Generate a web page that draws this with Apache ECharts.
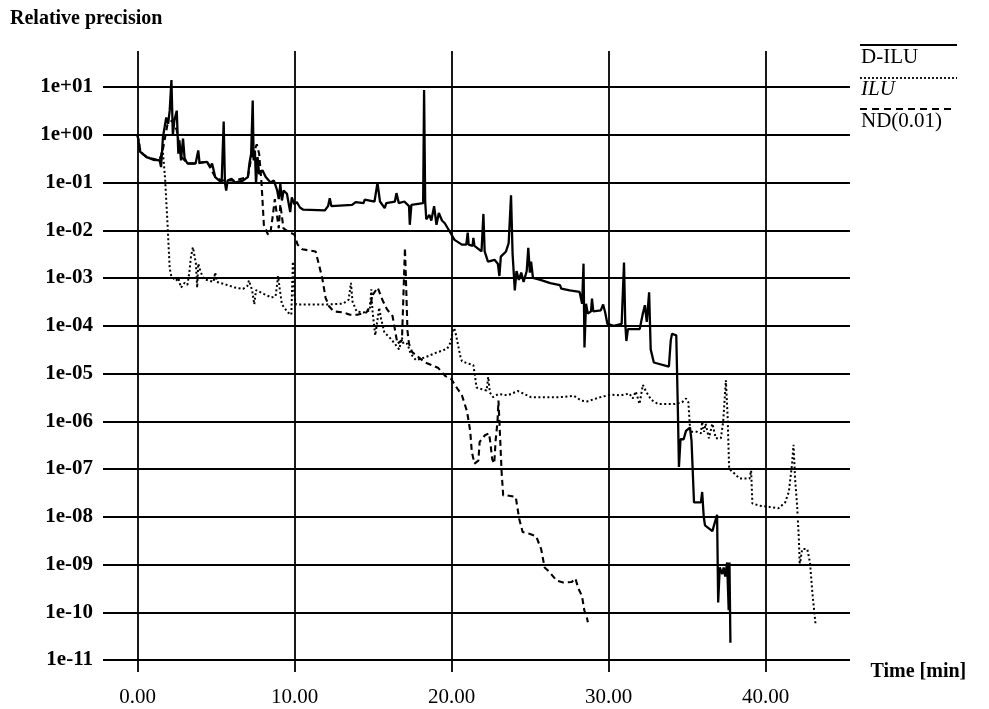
<!DOCTYPE html>
<html>
<head>
<meta charset="utf-8">
<title>Relative precision</title>
<script src="https://cdn.jsdelivr.net/npm/echarts@6/dist/echarts.min.js"></script>
<style>
  html, body { margin: 0; padding: 0; background: #fff; }
  #chart { width: 989px; height: 709px; }
</style>
</head>
<body>
<div id="chart"></div>
<script>
// time in minutes, relative precision
const diluTime = [0, 0.17, 0.58, 1.0, 1.41, 1.5, 1.62, 1.83, 1.95, 2.05, 2.16, 2.25, 2.35, 2.5, 2.6, 2.67, 2.77, 2.9, 3.0, 3.18,
  3.7, 3.87, 3.95, 4.43, 4.64, 4.75, 4.95, 5.36, 5.49, 5.57, 5.65, 5.74, 5.99, 6.2, 6.72, 7.03, 7.13, 7.24, 7.34, 7.4,
  7.48, 7.55, 7.65, 7.75, 7.96, 8.17, 8.48, 8.69, 8.9, 9.0, 9.1, 9.2, 9.31, 9.52, 9.73, 9.83, 10.0, 10.15, 10.35, 10.56,
  11.93, 12.14, 12.25, 12.35, 13.67, 13.9, 14.4, 14.48, 15.1, 15.29, 15.45, 15.75, 15.85, 16.4, 16.5, 16.65, 17.0, 17.3, 17.35, 17.45,
  18.2, 18.26, 18.33, 18.4, 18.6, 18.72, 18.9, 19.05, 19.2, 19.4, 19.58, 19.9, 20.2, 20.67, 20.95, 21.04, 21.1, 21.35, 21.4, 21.47,
  21.92, 22.04, 22.12, 22.33, 22.75, 22.96, 23.06, 23.15, 23.48, 23.65, 23.8, 23.9, 24.04, 24.15, 24.3, 24.45, 24.6, 24.8, 24.9, 25.0,
  25.08, 25.2, 25.67, 26.3, 26.92, 27.0, 27.54, 28.17, 28.33, 28.42, 28.48, 28.58, 28.69, 28.9, 28.96, 29.04, 29.52, 29.67, 29.8, 29.94,
  30.35, 30.85, 31.0, 31.08, 31.15, 31.25, 32.0, 32.2, 32.33, 32.45, 32.6, 32.7, 32.9, 33.86, 33.98, 34.06, 34.33, 34.43, 34.5, 34.6,
  34.8, 34.95, 35.2, 35.3, 35.46, 35.9, 35.98, 36.08, 36.16, 36.63, 36.93, 37.0, 37.1, 37.26, 37.35, 37.45, 37.57, 37.67, 37.72, 37.78];
const diluPrec = [1.0, 0.44, 0.34, 0.30, 0.29, 0.21, 0.89, 2.3, 1.7, 3.2, 14, 1.0, 2.0, 3.2, 0.4, 0.76, 0.29, 0.83, 0.32, 0.25,
  0.25, 0.47, 0.26, 0.27, 0.21, 0.25, 0.13, 0.10, 1.9, 0.10, 0.068, 0.11, 0.12, 0.10, 0.11, 0.13, 0.25, 0.40, 5.2, 0.29,
  0.47, 0.093, 0.34, 0.15, 0.18, 0.13, 0.10, 0.11, 0.068, 0.045, 0.093, 0.042, 0.068, 0.058, 0.024, 0.049, 0.035, 0.039, 0.030, 0.027,
  0.026, 0.032, 0.047, 0.032, 0.034, 0.039, 0.037, 0.044, 0.040, 0.098, 0.040, 0.029, 0.037, 0.040, 0.060, 0.037, 0.040, 0.032, 0.013, 0.034,
  0.037, 8.7, 0.040, 0.017, 0.021, 0.016, 0.032, 0.013, 0.023, 0.016, 0.014, 9.3e-3, 6.3e-3, 5.0e-3, 5.0e-3, 8.9e-3, 5.0e-3, 4.7e-3, 6.9e-3, 4.7e-3,
  3.6e-3, 0.022, 3.6e-3, 2.2e-3, 2.4e-3, 2.0e-3, 1.1e-3, 2.8e-3, 3.6e-3, 5.4e-3, 0.054, 3.2e-3, 5.5e-4, 1.4e-3, 9.1e-4, 1.3e-3, 8.3e-4, 1.4e-3, 4.3e-3, 1.3e-3,
  2.2e-3, 1.0e-3, 9.1e-4, 7.8e-4, 7.1e-4, 6.0e-4, 5.5e-4, 5.1e-4, 2.9e-4, 2.0e-3, 3.5e-5, 2.9e-4, 1.8e-4, 2.0e-4, 3.7e-4, 2.0e-4, 2.1e-4, 2.8e-4, 1.9e-4, 1.1e-4,
  1.0e-4, 1.1e-4, 2.1e-3, 1.1e-4, 4.8e-5, 8.5e-5, 8.5e-5, 1.8e-4, 2.7e-4, 1.2e-4, 5.0e-4, 3.2e-5, 1.7e-5, 1.4e-5, 5.0e-5, 6.8e-5, 6.3e-5, 1.8e-6, 1.1e-7, 4.2e-7,
  4.2e-7, 6.3e-7, 7.4e-7, 4.0e-7, 2.0e-8, 2.0e-8, 3.3e-8, 1.0e-8, 6.6e-9, 5.0e-9, 1.1e-8, 1.6e-10, 8.7e-10, 6.3e-10, 8.7e-10, 5.6e-10, 1.1e-9, 1.1e-10, 1.1e-9, 2.3e-11];

const iluTime = [0, 0.2, 0.6, 1.4, 1.6, 1.75, 1.9, 2.05, 2.15, 2.45, 2.6, 2.77, 3.0, 3.18, 3.3, 3.4, 3.53, 3.64, 3.72, 3.8,
  3.87, 4.0, 4.22, 4.84, 4.95, 5.05, 5.57, 6.2, 6.72, 7.0, 7.1, 7.3, 7.44, 7.55, 8.07, 8.54, 8.8, 8.96, 9.05, 9.2,
  9.58, 9.8, 9.9, 10.0, 10.1, 12.08, 13.1, 13.45, 13.6, 13.7, 13.96, 14.4, 14.8, 14.9, 14.97, 15.05, 15.15, 15.4, 15.52, 15.73,
  16.04, 16.35, 16.67, 16.85, 16.95, 17.2, 17.4, 17.74, 18.36, 19.0, 19.73, 19.95, 20.15, 20.3, 20.57, 20.67, 21.1, 21.4, 21.5, 21.6,
  21.93, 22.24, 22.35, 22.45, 22.66, 22.98, 23.6, 24.23, 25.07, 26.1, 26.96, 27.8, 28.3, 28.64, 29.5, 30.15, 30.8, 31.34, 31.55, 31.75,
  31.99, 32.2, 32.4, 32.74, 33.17, 34.25, 34.7, 34.95, 35.1, 35.22, 35.66, 35.9, 35.98, 36.1, 36.2, 36.41, 36.63, 36.85, 37.17, 37.32,
  37.49, 37.6, 37.7, 37.93, 38.36, 39.0, 39.1, 39.18, 39.65, 40.3, 40.84, 41.27, 41.5, 41.7, 41.8, 41.9, 42.03, 42.14, 42.2, 42.35,
  42.68, 42.85, 43.0, 43.2];
const iluPrec = [1.0, 0.44, 0.34, 0.29, 0.50, 0.13, 0.016, 1.6e-3, 1.1e-3, 8.7e-4, 1.0e-3, 6.3e-4, 7.9e-4, 7.2e-4, 1.3e-3, 2.7e-3, 4.4e-3, 4.8e-3, 2.0e-3, 6.3e-4,
  2.0e-3, 1.4e-3, 9.5e-4, 8.3e-4, 1.3e-3, 8.3e-4, 7.4e-4, 6.3e-4, 5.9e-4, 6.8e-4, 8.9e-4, 5.6e-4, 2.8e-4, 5.6e-4, 4.6e-4, 3.9e-4, 4.2e-4, 1.1e-3, 6.3e-4, 2.8e-4,
  1.9e-4, 1.7e-4, 2.2e-3, 4.0e-4, 2.8e-4, 2.8e-4, 2.9e-4, 3.5e-4, 7.9e-4, 3.2e-4, 2.0e-4, 1.9e-4, 2.1e-4, 5.8e-4, 2.1e-4, 1.2e-4, 6.3e-5, 2.4e-4, 1.4e-4, 7.2e-5,
  5.8e-5, 4.4e-5, 3.2e-5, 5.6e-5, 4.2e-5, 4.2e-5, 2.6e-5, 1.9e-5, 2.2e-5, 2.7e-5, 3.3e-5, 4.5e-5, 1.0e-4, 6.3e-5, 2.3e-5, 1.8e-5, 1.6e-5, 1.5e-5, 9.1e-6, 5.1e-6,
  4.7e-6, 4.4e-6, 8.5e-6, 4.0e-6, 3.2e-6, 3.7e-6, 3.5e-6, 4.3e-6, 3.2e-6, 3.2e-6, 3.2e-6, 3.4e-6, 2.7e-6, 2.6e-6, 3.2e-6, 3.6e-6, 3.5e-6, 3.8e-6, 3.0e-6, 4.2e-6,
  2.3e-6, 5.8e-6, 4.2e-6, 2.8e-6, 2.3e-6, 2.3e-6, 2.5e-6, 3.0e-6, 2.5e-6, 6.0e-7, 6.0e-7, 5.6e-7, 9.8e-7, 6.0e-7, 8.9e-7, 4.4e-7, 8.9e-7, 4.4e-7, 4.4e-7, 9.8e-7,
  7.2e-6, 1.3e-6, 1.0e-7, 8.7e-8, 6.3e-8, 6.3e-8, 9.3e-8, 1.9e-8, 1.7e-8, 1.6e-8, 1.5e-8, 2.0e-8, 3.3e-8, 1.2e-7, 3.2e-7, 6.3e-8, 1.7e-8, 3.5e-9, 9.5e-10, 2.1e-9,
  2.1e-9, 1.1e-9, 2.6e-10, 5.8e-11];

const ndTime = [0, 0.17, 0.58, 1.41, 1.62, 1.9, 2.2, 2.5, 2.77, 3.18, 3.7, 4.43, 4.95, 5.36, 6.2, 7.03, 7.24, 7.6, 7.75, 7.9,
  8.05, 8.3, 8.45, 8.6, 8.75, 8.85, 9.0, 9.1, 9.3, 9.58, 10.0, 10.2, 10.5, 11.35, 11.56, 11.77, 11.98, 12.19, 12.5, 13.1,
  13.54, 14.0, 14.58, 14.8, 15.0, 15.3, 15.6, 15.9, 16.25, 16.56, 16.85, 16.98, 17.04, 17.12, 17.2, 17.3, 17.5, 17.9, 18.33, 18.75,
  19.17, 19.6, 20.0, 20.25, 20.67, 21.0, 21.2, 21.3, 21.47, 21.72, 21.8, 22.14, 22.4, 22.5, 22.6, 22.73, 22.82, 22.94, 23.0, 23.1,
  23.2, 23.3, 23.56, 24.1, 24.32, 24.54, 24.97, 25.4, 25.72, 25.94, 26.26, 26.7, 27.13, 27.67, 27.9, 28.1, 28.32, 28.47, 28.6, 28.7];
const ndPrec = [1.0, 0.44, 0.34, 0.29, 0.50, 1.6, 2.0, 1.26, 0.35, 0.25, 0.25, 0.27, 0.13, 0.11, 0.11, 0.13, 0.32, 0.63, 0.40, 0.10,
  0.013, 8.3e-3, 8.1e-3, 0.018, 0.045, 0.025, 0.011, 0.035, 0.011, 9.5e-3, 8.1e-3, 5.0e-3, 4.0e-3, 3.6e-3, 1.9e-3, 1.0e-3, 3.9e-4, 2.6e-4, 2.0e-4, 1.9e-4,
  1.7e-4, 1.7e-4, 1.9e-4, 2.5e-4, 4.5e-4, 6.3e-4, 3.5e-4, 2.2e-4, 1.6e-4, 4.2e-5, 5.0e-5, 1.0e-3, 4.3e-3, 6.3e-4, 7.9e-5, 4.2e-5, 2.8e-5, 2.2e-5, 1.7e-5, 1.5e-5,
  1.3e-5, 8.9e-6, 7.6e-6, 5.6e-6, 3.5e-6, 1.6e-6, 6.2e-7, 2.3e-7, 1.3e-7, 1.5e-7, 3.7e-7, 5.1e-7, 5.6e-7, 3.2e-7, 1.6e-7, 1.3e-7, 4.0e-7, 1.0e-6, 2.7e-6, 5.0e-7,
  8.7e-8, 2.8e-8, 2.8e-8, 2.6e-8, 9.1e-9, 4.8e-9, 4.4e-9, 3.9e-9, 2.1e-9, 8.7e-10, 6.9e-10, 4.6e-10, 4.2e-10, 4.3e-10, 5.1e-10, 3.1e-10, 2.2e-10, 1.1e-10, 8.5e-11, 6.2e-11];

const timeTicks = [0, 10, 20, 30, 40];
const legendNames = ['D-ILU', 'ILU', 'ND(0.01)'];

const FONT = '"Liberation Serif", "DejaVu Serif", serif';
const INK = '#000';

function zip(xs, ys) {
  return xs.map((x, i) => [x, ys[i]]);
}

function expLabel(v) {
  const e = Math.round(Math.log10(v));
  const sign = e < 0 ? '-' : '+';
  return '1e' + sign + String(Math.abs(e)).padStart(2, '0');
}

const chart = echarts.init(document.getElementById('chart'), null, { renderer: 'canvas' });

const option = {
  animation: false,
  backgroundColor: '#fff',
  title: {
    text: 'Relative precision',
    left: 10,
    top: 9,
    padding: 0,
    textStyle: { fontFamily: FONT, fontSize: 20, fontWeight: 'bold', color: INK }
  },
  grid: [
    // data grid: horizontal decade lines span the whole plot width
    { left: 103, right: 139, top: 51, bottom: 49 },
    // vertical time lines, a bit longer than the data grid
    { left: 137.5, right: 223.5, top: 51, bottom: 37 }
  ],
  xAxis: [
    {
      gridIndex: 0,
      type: 'value',
      min: -2.2,
      max: 45.4,
      show: false
    },
    {
      gridIndex: 1,
      type: 'value',
      min: timeTicks[0],
      max: timeTicks[timeTicks.length - 1],
      interval: 10,
      axisLine: { show: false },
      axisTick: { show: false },
      splitLine: { show: true, lineStyle: { color: INK, width: 1.8 } },
      axisLabel: {
        margin: 15,
        fontFamily: FONT,
        fontSize: 21,
        color: INK,
        formatter: v => v.toFixed(2)
      },
      name: 'Time [min]',
      nameLocation: 'end',
      nameGap: 105,
      nameTextStyle: { fontFamily: FONT, fontSize: 20, fontWeight: 'bold', color: INK, align: 'left', verticalAlign: 'middle', padding: [0, 0, 6, 0] }
    }
  ],
  yAxis: [
    {
      gridIndex: 0,
      type: 'log',
      logBase: 10,
      min: 1e-11,
      max: 56.8,
      interval: 1,
      axisLine: { show: false },
      axisTick: { show: false },
      splitLine: { show: true, showMaxLine: false, lineStyle: { color: INK, width: 1.8 } },
      axisLabel: {
        margin: 10,
        fontFamily: FONT,
        fontSize: 21,
        fontWeight: 'bold',
        color: INK,
        showMaxLabel: false,
        formatter: expLabel
      }
    },
    {
      gridIndex: 1,
      type: 'value',
      min: 0,
      max: 1,
      show: false
    }
  ],
  series: [
    {
      name: legendNames[0],
      type: 'line',
      xAxisIndex: 0,
      yAxisIndex: 0,
      data: zip(diluTime, diluPrec),
      showSymbol: false,
      symbol: 'none',
      lineStyle: { color: INK, width: 2.3 }
    },
    {
      name: legendNames[1],
      type: 'line',
      xAxisIndex: 0,
      yAxisIndex: 0,
      data: zip(iluTime, iluPrec),
      showSymbol: false,
      symbol: 'none',
      lineStyle: { color: INK, width: 2, type: [2, 2.5] }
    },
    {
      name: legendNames[2],
      type: 'line',
      xAxisIndex: 0,
      yAxisIndex: 0,
      data: zip(ndTime, ndPrec),
      showSymbol: false,
      symbol: 'none',
      lineStyle: { color: INK, width: 2.1, type: [6, 4] }
    }
  ],
  // legend drawn as in the original: a line sample over each name
  graphic: [
    { type: 'line', shape: { x1: 860, y1: 45, x2: 957, y2: 45 }, style: { stroke: INK, lineWidth: 1.8 } },
    { type: 'text', style: { text: legendNames[0], x: 861, y: 57, font: '21px ' + FONT, fill: INK, textVerticalAlign: 'middle' } },
    { type: 'line', shape: { x1: 860, y1: 78, x2: 957, y2: 78 }, style: { stroke: INK, lineWidth: 1.8, lineDash: [2, 2] } },
    { type: 'text', style: { text: legendNames[1], x: 861, y: 89, font: 'italic 21px ' + FONT, fill: INK, textVerticalAlign: 'middle' } },
    { type: 'line', shape: { x1: 860, y1: 109, x2: 952, y2: 109 }, style: { stroke: INK, lineWidth: 1.8, lineDash: [7, 5] } },
    { type: 'text', style: { text: legendNames[2], x: 861, y: 121, font: '21px ' + FONT, fill: INK, textVerticalAlign: 'middle' } }
  ]
};

chart.setOption(option);
</script>
</body>
</html>
